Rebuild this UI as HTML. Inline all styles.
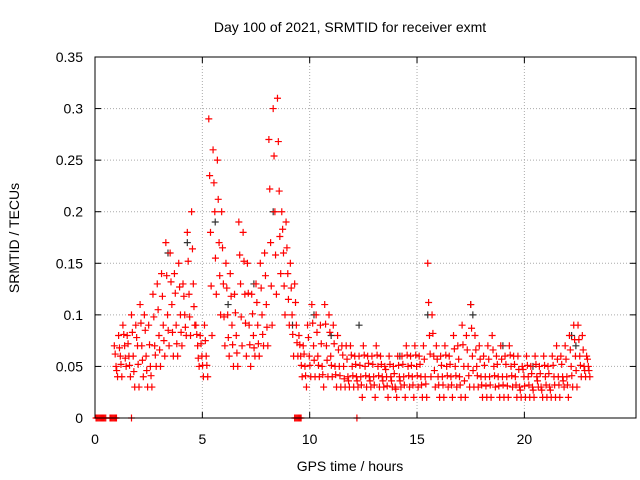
<!DOCTYPE html>
<html><head><meta charset="utf-8"><style>
body{margin:0;background:#fff}
svg{display:block;font-family:"Liberation Sans",sans-serif}
</style></head><body>
<svg id="c" width="640" height="480">
<rect width="640" height="480" fill="#fff"/>
<text x="350" y="32" font-size="14" text-anchor="middle">Day 100 of 2021, SRMTID for receiver exmt</text>
<text x="350" y="471" font-size="14" text-anchor="middle">GPS time / hours</text>
<text transform="translate(19,238) rotate(-90)" font-size="14" text-anchor="middle">SRMTID / TECUs</text>
<g id="grid"></g><g id="marks"></g>
<rect x="95" y="57" width="541" height="361" fill="none" stroke="#000"/>
</svg>
<script>
const t0 = 0.9, dt = 0.2;
const hi = [.07,.08,.09,.08,.1,.09,.11,.1,.09,.12,.13,.14,.17,.16,.14,.15,.13,.18,.2,.09,.08,.09,.29,.26,.25,.2,.15,.14,.12,.19,.18,.15,.12,.13,.15,.16,.27,.3,.31,.2,.19,.15,.13,.08,.07,.09,.11,.1,.09,.11,.1,.09,.08,.07,.07,.07,.06,.06,.07,.06,.06,.07,.06,.05,.06,.05,.06,.06,.07,.06,.07,.06,.07,.15,.1,.07,.06,.07,.06,.08,.07,.09,.08,.11,.08,.07,.06,.07,.08,.06,.07,.06,.07,.06,.06,.05,.06,.05,.06,.05,.06,.05,.06,.07,.06,.07,.08,.09,.09,.08,.06];
const q1 = [.062,.068,.081,.072,.083,.078,.092,.085,.071,.098,.105,.118,.138,.132,.121,.127,.118,.152,.164,.081,.072,.075,.235,.228,.212,.165,.126,.118,.102,.158,.152,.121,.101,.112,.126,.138,.222,.254,.268,.183,.165,.126,.112,.071,.062,.078,.092,.083,.072,.091,.083,.072,.066,.061,.057,.061,.052,.051,.061,.053,.052,.061,.052,.047,.052,.043,.051,.052,.061,.051,.061,.052,.057,.112,.082,.057,.051,.061,.052,.067,.057,.071,.066,.087,.066,.057,.051,.057,.066,.052,.057,.052,.061,.052,.047,.047,.051,.043,.052,.043,.051,.043,.051,.057,.052,.057,.066,.076,.076,.066,.057];
const mid = [.05,.06,.07,.06,.06,.07,.07,.06,.05,.07,.08,.09,.1,.11,.09,.1,.1,.12,.13,.07,.06,.06,.18,.2,.17,.13,.1,.09,.08,.13,.12,.09,.08,.09,.1,.11,.17,.2,.22,.16,.14,.1,.09,.06,.05,.06,.07,.06,.05,.07,.06,.05,.05,.05,.04,.05,.04,.04,.05,.04,.04,.05,.04,.04,.04,.03,.04,.04,.05,.04,.05,.04,.04,.08,.06,.04,.04,.05,.04,.05,.04,.05,.05,.06,.05,.04,.04,.04,.05,.04,.04,.04,.05,.04,.03,.04,.04,.03,.04,.03,.04,.03,.04,.04,.04,.04,.05,.06,.06,.05,.05];
const q3 = [.046,.052,.058,.051,.045,.052,.056,.046,.041,.061,.066,.075,.085,.083,.072,.083,.088,.098,.108,.058,.051,.051,.128,.155,.138,.098,.078,.071,.063,.098,.092,.071,.068,.072,.081,.088,.128,.158,.176,.128,.115,.081,.073,.051,.041,.051,.056,.051,.042,.056,.051,.042,.041,.038,.036,.041,.036,.032,.041,.036,.032,.041,.036,.031,.036,.028,.036,.032,.041,.032,.041,.032,.033,.062,.046,.032,.032,.041,.032,.041,.032,.036,.041,.046,.041,.032,.031,.032,.041,.031,.032,.031,.041,.032,.027,.031,.032,.027,.036,.027,.032,.027,.032,.032,.036,.032,.041,.046,.051,.046,.046];
const lo = [.04,.04,.05,.04,.03,.03,.04,.03,.03,.05,.05,.06,.07,.06,.06,.07,.08,.08,.09,.05,.04,.04,.08,.12,.1,.07,.06,.05,.05,.07,.06,.05,.06,.06,.07,.07,.09,.12,.14,.1,.09,.06,.06,.04,.03,.04,.04,.04,.03,.04,.04,.03,.03,.03,.03,.03,.03,.02,.03,.03,.02,.03,.03,.02,.03,.02,.03,.02,.03,.02,.03,.02,.02,.04,.03,.02,.02,.03,.02,.03,.02,.02,.03,.03,.03,.02,.02,.02,.03,.02,.02,.02,.03,.02,.02,.02,.02,.02,.03,.02,.02,.02,.02,.02,.03,.02,.03,.03,.04,.04,.04];
const zeroTimes = [0.05,0.1,0.15,0.2,0.25,0.3,0.35,0.4,0.45,0.5,0.7,0.75,0.8,0.85,0.9,0.95,1.0,1.7,9.3,9.35,9.4,9.45,9.5,9.55,9.6,12.2];
const blackT = [3.4,4.3,5.6,6.2,7.4,8.3,9.2,10.2,11.0,12.3,14.2,15.5,17.5,17.6,19.0,20.4,22.2,22.4];
const blackV = [.16,.17,.19,.11,.13,.2,.09,.1,.08,.09,.06,.1,.11,.1,.07,.05,.08,.07];
const xTicks = [0,5,10,15,20];
const yTicks = [0,0.05,0.1,0.15,0.2,0.25,0.3,0.35];
const yLabels = ["0","0.05","0.1","0.15","0.2","0.25","0.3","0.35"];
const ns="http://www.w3.org/2000/svg";
const X0=95,X1=636,Y0=418,Y1=57,XMAX=25.2,YMAX=0.35;
const xs=v=>X0+v/XMAX*(X1-X0), ys=v=>Y0-v/YMAX*(Y0-Y1);
const grid=document.getElementById('grid'), marks=document.getElementById('marks');
function mk(tag,attrs,parent){const e=document.createElementNS(ns,tag);for(const k in attrs)e.setAttribute(k,attrs[k]);parent.appendChild(e);return e;}
xTicks.forEach(v=>{
  const x=xs(v);
  if(v>0){const g=mk('line',{x1:x,x2:x,y1:Y0,y2:Y1,stroke:'#aaa','stroke-dasharray':'1,2'},grid);
  
  }
  mk('line',{x1:x,x2:x,y1:Y0,y2:Y0-6,stroke:'#000'},grid);
  mk('line',{x1:x,x2:x,y1:Y1,y2:Y1+6,stroke:'#000'},grid);
  const t=mk('text',{x:x,y:444,'font-size':14,'text-anchor':'middle'},grid);t.textContent=v;
  
  
});
yTicks.forEach((v,i)=>{
  const y=ys(v);
  if(v>0&&v<YMAX){const g=mk('line',{x1:X0,x2:X1,y1:y,y2:y,stroke:'#aaa','stroke-dasharray':'1,2'},grid);
  
  }
  mk('line',{x1:X0,x2:X0+6,y1:y,y2:y,stroke:'#000'},grid);
  mk('line',{x1:X1,x2:X1-6,y1:y,y2:y,stroke:'#000'},grid);
  const t=mk('text',{x:83,y:y+5,'font-size':14,'text-anchor':'end'},grid);t.textContent=yLabels[i];
  
  
});
function plus(t,v,col){
  const x=xs(t),y=ys(v);
  const p=mk('path',{d:`M${x-3.5},${y}h7M${x},${y-3.5}v7`,stroke:col,'stroke-width':1.2,fill:'none'},marks);
  
  
}
blackT.forEach((t,i)=>plus(t,blackV[i],'#333'));
[[hi,0],[q1,0.04],[mid,0.08],[q3,0.11],[lo,0.15]].forEach(([arr,off])=>arr.forEach((v,i)=>plus(t0+i*dt+off,v,'#f00')));
zeroTimes.forEach(t=>plus(t,0,'#f00'));
</script>
</body></html>
